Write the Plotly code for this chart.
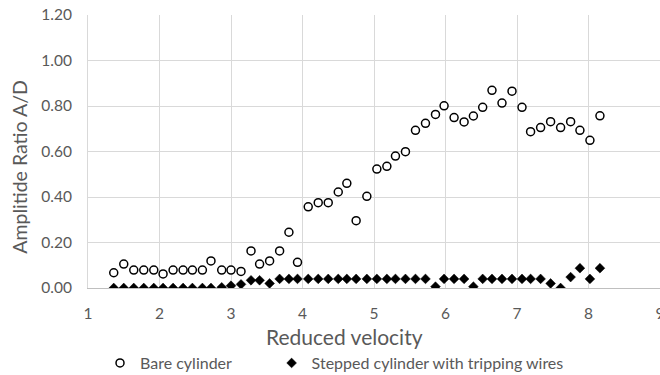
import plotly.graph_objects as go

reduced_velocity = [1.36, 1.50, 1.64, 1.78, 1.92, 2.05, 2.19, 2.33, 2.46, 2.60,
                    2.72, 2.87, 3.00, 3.14, 3.28, 3.40, 3.54, 3.68, 3.81, 3.93,
                    4.08, 4.22, 4.36, 4.50, 4.62, 4.75, 4.90, 5.04, 5.18, 5.30,
                    5.44, 5.58, 5.72, 5.86, 5.98, 6.12, 6.26, 6.39, 6.52, 6.65,
                    6.79, 6.93, 7.07, 7.19, 7.33, 7.47, 7.61, 7.75, 7.88, 8.02, 8.16]

bare_cylinder = [0.067, 0.105, 0.079, 0.079, 0.079, 0.062, 0.079, 0.079, 0.079, 0.079,
                 0.119, 0.079, 0.079, 0.073, 0.163, 0.105, 0.119, 0.163, 0.245, 0.113,
                 0.357, 0.375, 0.375, 0.422, 0.460, 0.296, 0.403, 0.523, 0.535, 0.580,
                 0.599, 0.693, 0.724, 0.763, 0.801, 0.749, 0.730, 0.756, 0.794, 0.869,
                 0.813, 0.865, 0.794, 0.687, 0.705, 0.731, 0.705, 0.731, 0.693, 0.649, 0.757]

stepped_cylinder = [0.00, 0.00, 0.00, 0.00, 0.00, 0.00, 0.00, 0.00, 0.00, 0.00,
                    0.00, 0.003, 0.010, 0.016, 0.034, 0.034, 0.020, 0.040, 0.040, 0.040,
                    0.040, 0.040, 0.040, 0.040, 0.040, 0.040, 0.040, 0.040, 0.040, 0.040,
                    0.040, 0.040, 0.040, 0.006, 0.040, 0.040, 0.040, 0.006, 0.040, 0.040,
                    0.040, 0.040, 0.040, 0.040, 0.040, 0.020, 0.000, 0.048, 0.087, 0.040, 0.087]

x_ticks = [1, 2, 3, 4, 5, 6, 7, 8, 9]
y_ticks = [0.0, 0.2, 0.4, 0.6, 0.8, 1.0, 1.2]

FONT = "Lato"
TXT = "#595959"
GRID = "#d9d9d9"

fig = go.Figure()
fig.add_trace(go.Scatter(
    x=reduced_velocity, y=bare_cylinder, mode="markers", name="Bare cylinder",
    legend="legend",
    marker=dict(symbol="circle", size=8, color="white",
                line=dict(color="black", width=1.5)),
))
fig.add_trace(go.Scatter(
    x=reduced_velocity, y=stepped_cylinder, mode="markers",
    name="Stepped cylinder with tripping wires", legend="legend2",
    marker=dict(symbol="diamond", size=7.5, color="black",
                line=dict(color="black", width=0.5)),
))

leg_common = dict(orientation="h", xanchor="left", y=-0.275, yanchor="middle",
                  font=dict(family=FONT, size=16, color=TXT), itemwidth=30,
                  bgcolor="rgba(0,0,0,0)")

fig.update_layout(
    width=660, height=375,
    margin=dict(l=88, r=0, t=15, b=87, autoexpand=False),
    paper_bgcolor="white", plot_bgcolor="white",
    font=dict(family=FONT, color=TXT, size=16),
    showlegend=True,
    legend=dict(x=0.021, **leg_common),
    legend2=dict(x=0.321, **leg_common),
    xaxis=dict(range=[1, 9], tickvals=x_ticks, ticktext=[str(v) for v in x_ticks],
               automargin=False,
               showgrid=True, gridcolor=GRID, gridwidth=1,
               showline=True, linecolor="#bfbfbf", linewidth=1,
               zeroline=False, ticks="outside", ticklen=11, tickcolor="rgba(0,0,0,0)",
               ticklabeloverflow="allow",
               tickfont=dict(family=FONT, size=15.5, color=TXT)),
    yaxis=dict(range=[0, 1.2], tickvals=y_ticks, tickformat=".2f",
               automargin=False,
               showgrid=True, gridcolor=GRID, gridwidth=1,
               showline=True, linecolor=GRID, linewidth=1,
               zeroline=False, ticks="outside", ticklen=12, tickcolor="rgba(0,0,0,0)",
               ticklabeloverflow="allow",
               tickfont=dict(family=FONT, size=15.5, color=TXT)),
    annotations=[
        dict(text="Reduced velocity", xref="paper", yref="paper", x=0.449, y=-0.179,
             xanchor="center", yanchor="middle", showarrow=False,
             font=dict(family=FONT, size=21, color=TXT)),
        dict(text="Amplitide Ratio A/D", xref="paper", yref="paper", x=-0.119, y=0.444,
             xanchor="center", yanchor="middle", showarrow=False, textangle=-90,
             font=dict(family=FONT, size=19.5, color=TXT)),
    ],
)

fig.write_html("out.html", config={"displayModeBar": False},
               post_script="document.body.style.margin='0';")
